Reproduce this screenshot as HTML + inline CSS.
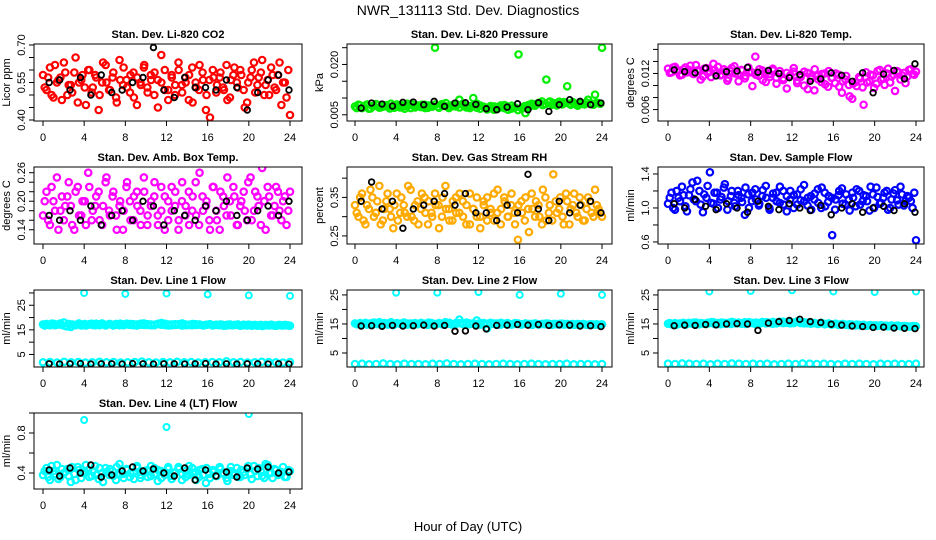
<!DOCTYPE html>
<html><head><meta charset="utf-8"><style>
body{margin:0;background:#fff}
svg{display:block;font-family:"Liberation Sans",sans-serif}
</style></head><body>
<svg id="c" width="936" height="540" viewBox="0 0 936 540">
<text x="468" y="15" text-anchor="middle" font-size="14">NWR_131113 Std. Dev. Diagnostics</text>
<text x="468" y="531" text-anchor="middle" font-size="13">Hour of Day (UTC)</text>
</svg>
<script>
const hourTicks=[0,4,8,12,16,20,24];
const co2Vals=[.58,.52,.61,.49,.55,.57,.63,.50,.54,.59,.47,.56,.53,.60,.51,.58,.44,.55,.62,.52,.57,.49,.64,.54,.56,.51,.59,.46,.55,.61,.53,.58,.50,.56,.66,.52,.48,.57,.54,.60,.51,.55,.58,.47,.53,.62,.56,.50,.41,.57,.54,.59,.52,.48,.56,.61,.53,.58,.45,.55,.60,.51,.57,.64,.54,.50,.58,.52,.63,.55,.49,.42];
const co2B=[.53,.57,.50,.62,.56,.48,.59,.54,.51,.65,.55,.58,.46,.60,.53,.57,.50,.63,.55,.52,.59,.47,.56,.61,.53,.58,.49,.57,.54,.62,.51,.56,.59,.45,.55,.60,.52,.58,.50,.63,.54,.57,.48,.61,.55,.52,.59,.44,.56,.60,.51,.57,.53,.62,.49,.58,.55,.60,.52,.47,.57,.63,.54,.59,.50,.56,.61,.53,.58,.46,.55,.60];
const co2Black=[.55,.56,.52,.57,.50,.58,.51,.52,.55,.57,.69,.52,.49,.57,.53,.53,.52,.56,.53,.44,.51,.56,.58,.52];
const presVals=[.0075,.008,.007,.0078,.0068,.0076,.0082,.0071,.0074,.0079,.0069,.0077,.0081,.0072,.0075,.0083,.007,.0076,.0078,.0073,.008,.0071,.0077,.025,.0074,.0082,.0076,.007,.0079,.0075,.0095,.0083,.0072,.0076,.010,.0071,.0078,.0074,.0066,.007,.0075,.0068,.0073,.0079,.0065,.0077,.0072,.023,.0069,.0055,.0074,.0078,.0082,.0086,.0079,.0155,.009,.0085,.0078,.0083,.0088,.0135,.008,.0084,.0077,.0086,.0081,.0095,.0083,.011,.0085,.025];
const presB=[.0070,.0078,.0073,.0081,.0069,.0076,.0080,.0072,.0078,.0074,.0083,.0071,.0075,.0079,.0068,.0077,.0082,.0072,.0076,.0080,.0070,.0078,.0074,.0081,.0071,.0077,.0085,.0073,.0076,.0082,.0072,.0079,.0075,.0070,.0078,.0083,.0068,.0074,.0071,.0076,.0065,.0073,.0078,.0070,.0075,.0068,.0072,.0064,.0070,.0076,.0079,.0083,.0077,.0085,.0090,.0082,.0087,.0080,.0084,.0089,.0081,.0086,.0083,.0088,.0080,.0085,.0082,.0087,.0084,.0080,.0086,.0083];
const presBlack=[.007,.0085,.0082,.0076,.0087,.0088,.008,.009,.0075,.0085,.0086,.0081,.0068,.0065,.0073,.0083,.0065,.0086,.006,.008,.0095,.009,.008,.0085];
const tempVals=[.0128,.0122,.0131,.0125,.0118,.0130,.0126,.0120,.0134,.0124,.0115,.0129,.0123,.0136,.0121,.0117,.0127,.0108,.0124,.0132,.0119,.0126,.0112,.0130,.0122,.0148,.0116,.0125,.0106,.0119,.0128,.0113,.0124,.0109,.0121,.0116,.0129,.0104,.0118,.0123,.0094,.0115,.0127,.0110,.0119,.0102,.0124,.0113,.0120,.0098,.0107,.0116,.0082,.0103,.0099,.0112,.0068,.0105,.0118,.0096,.0124,.0110,.0101,.0128,.0115,.0091,.0122,.0117,.0104,.0126,.0119,.0123];
const tempB=[.0121,.0130,.0124,.0117,.0127,.0122,.0133,.0119,.0125,.0110,.0128,.0121,.0114,.0126,.0131,.0118,.0123,.0112,.0129,.0120,.0107,.0125,.0116,.0122,.0099,.0118,.0127,.0109,.0121,.0114,.0125,.0103,.0119,.0112,.0095,.0117,.0123,.0108,.0114,.0100,.0121,.0111,.0092,.0116,.0106,.0120,.0098,.0113,.0104,.0118,.0088,.0110,.0101,.0078,.0106,.0114,.0097,.0122,.0107,.0117,.0103,.0126,.0112,.0120,.0105,.0118,.0124,.0110,.0121,.0115,.0127,.0118];
const tempBlack=[.0126,.0123,.0121,.0129,.0116,.0123,.0124,.0130,.0122,.0125,.0120,.0113,.0118,.0107,.0111,.0121,.0117,.0107,.0121,.0088,.0119,.0125,.0111,.0136];
const boxVals=[.17,.22,.15,.20,.25,.18,.16,.21,.19,.14,.23,.17,.20,.26,.16,.19,.22,.15,.24,.18,.21,.17,.19,.14,.23,.20,.16,.22,.18,.25,.15,.19,.21,.17,.23,.14,.20,.18,.22,.16,.24,.19,.15,.21,.17,.26,.18,.20,.14,.23,.16,.22,.19,.25,.17,.21,.15,.20,.18,.24,.16,.22,.19,.27,.14,.21,.17,.23,.18,.20,.15,.22];
const boxB=[.20,.16,.23,.18,.14,.21,.19,.24,.15,.22,.17,.20,.15,.23,.18,.21,.16,.19,.25,.17,.22,.14,.20,.18,.24,.16,.21,.19,.15,.22,.17,.20,.24,.15,.18,.21,.16,.23,.19,.14,.20,.17,.22,.18,.24,.15,.21,.19,.16,.23,.18,.14,.21,.17,.20,.23,.15,.19,.22,.16,.25,.18,.21,.15,.20,.23,.17,.19,.22,.16,.21,.18];
const boxBlack=[.17,.16,.18,.16,.19,.15,.17,.18,.16,.20,.19,.15,.18,.17,.16,.19,.18,.20,.17,.16,.18,.19,.17,.20];
const rhVals=[.33,.30,.36,.28,.32,.35,.31,.38,.29,.34,.32,.27,.36,.31,.33,.30,.37,.29,.34,.32,.35,.28,.31,.36,.33,.30,.38,.32,.29,.35,.31,.34,.28,.36,.32,.30,.27,.33,.35,.31,.29,.37,.32,.34,.30,.36,.28,.33,.31,.35,.26,.32,.34,.30,.37,.29,.33,.41,.31,.35,.28,.34,.32,.36,.30,.33,.29,.35,.31,.37,.32,.30];
const rhB=[.31,.35,.29,.33,.37,.30,.34,.28,.32,.36,.30,.33,.29,.35,.31,.38,.30,.33,.28,.36,.31,.34,.30,.33,.27,.35,.32,.29,.34,.31,.36,.30,.33,.28,.32,.35,.30,.34,.29,.32,.36,.31,.28,.35,.30,.33,.31,.24,.34,.29,.32,.36,.30,.33,.28,.35,.31,.29,.34,.32,.30,.36,.28,.33,.31,.35,.29,.32,.34,.30,.33,.31];
const rhBlack=[.34,.39,.32,.34,.27,.32,.33,.34,.36,.33,.36,.31,.31,.29,.33,.31,.41,.32,.29,.34,.31,.33,.34,.31];
const flowVals=[1.05,1.18,0.98,1.12,1.25,1.02,1.15,1.30,1.08,1.20,0.95,1.12,1.42,1.05,1.18,1.10,1.24,0.98,1.14,1.06,1.20,1.12,0.92,1.16,1.08,1.22,1.03,1.14,1.26,1.00,1.12,1.18,1.06,1.20,0.96,1.10,1.15,1.04,1.22,1.08,1.12,0.98,1.17,1.06,1.24,1.02,1.14,0.68,1.10,1.20,1.05,1.16,0.97,1.12,1.22,1.04,1.15,1.08,1.25,1.00,1.13,1.06,1.18,0.98,1.10,1.21,1.04,1.16,1.08,1.12,1.00,0.62];
const flowB=[1.12,1.00,1.20,1.08,1.15,0.96,1.22,1.10,1.32,1.04,1.16,1.26,1.06,1.18,1.00,1.13,1.28,1.08,1.20,1.02,1.15,1.07,1.24,1.00,1.18,1.10,1.05,1.21,1.12,0.98,1.17,1.08,1.25,1.04,1.14,1.20,1.00,1.16,1.09,1.27,1.03,1.14,1.10,1.22,1.00,1.18,1.07,1.12,0.98,1.15,1.23,1.04,1.10,1.18,1.02,1.20,1.08,1.14,0.97,1.16,1.24,1.05,1.12,1.20,1.00,1.17,1.09,1.25,1.03,1.14,1.08,1.18];
const flowBlack=[1.05,1.00,1.10,1.02,0.98,1.05,1.00,0.95,1.08,1.02,0.98,1.05,1.00,0.97,1.03,0.92,1.00,1.05,0.95,1.00,1.02,0.97,1.05,0.95];
const l1Vals=[17.2,17.4,16.9,17.5,17.1,17.6,18.0,16.4,16.2,17.0,17.3,16.8,17.4,17.1,17.5,16.9,17.2,17.6,16.8,17.3,17.0,17.4,16.9,17.2,17.5,17.0,17.3,16.8,17.1,17.6,17.0,17.2,16.9,17.4,17.1,17.5,16.8,17.2,17.0,17.3,17.6,16.9,17.1,17.4,17.0,17.2,16.8,17.1,17.3,16.9,17.0,17.2,16.7,17.1,16.9,17.0,17.2,16.8,16.9,17.1,16.7,17.0,16.9,16.6,17.0,16.8,16.9,16.7,17.0,16.8,16.9,16.7];
const l1B=[16.8,17.1,17.5,16.9,17.3,17.0,16.6,17.4,17.2,16.9,17.6,17.1,16.8,17.3,17.0,17.5,16.9,17.2,17.0,17.4,16.8,17.1,17.5,16.9,17.2,17.4,16.9,17.2,17.5,17.0,17.3,16.9,17.1,17.4,17.8,17.0,17.2,16.9,17.3,17.1,16.8,17.2,17.0,16.9,17.3,17.1,16.9,17.0,17.2,16.8,17.1,16.9,17.0,16.8,17.2,16.9,17.0,16.7,17.1,16.8,17.0,16.9,16.7,17.0,16.8,16.9,17.1,16.7,16.9,16.8,17.0,16.8];
const l1Low=[1.8,1.9,1.7,2.0,1.8,1.9,1.7,1.8,2.0,1.8,1.9,1.7,1.8,1.9,2.1,1.8,1.7,1.9,1.8,2.0,1.8,1.9,1.7,1.8,1.9,1.8,2.2,1.8,1.9,1.7,1.8,2.0,1.9,1.8,1.7,1.9];
const l1Black=[1.2,1.1,1.2,1.3,1.1,1.2,1.2,1.1,1.3,1.2,1.1,1.2,1.2,1.1,1.2,1.3,1.1,1.2,1.1,1.2,1.2,1.1,1.2,1.1];
const outHours=[4,8,12,16,20,24];
const l1Out=[30.0,29.6,29.8,29.4,29.0,28.8];
const l2Vals=[15.2,15.0,14.7,15.4,15.1,14.8,15.3,15.6,14.9,15.2,15.0,14.6,15.3,15.1,15.5,14.8,15.2,15.0,14.9,15.4,15.1,14.7,15.3,15.0,15.2,14.9,15.6,15.1,14.8,15.3,16.5,15.0,14.9,15.2,15.1,16.2,14.8,15.3,13.5,15.0,15.2,14.9,15.4,15.1,15.0,14.8,15.3,15.1,14.9,15.2,15.0,14.7,15.1,14.9,15.0,15.2,14.8,15.0,14.9,15.1,14.8,15.0,14.9,14.7,15.0,14.8,14.9,14.7,14.9,14.8,14.7,14.9];
const l2B=[14.9,15.3,15.1,14.8,15.2,15.5,14.9,15.1,15.3,14.8,15.6,15.0,15.2,14.9,15.4,15.1,14.8,15.3,15.0,15.2,14.9,15.5,15.1,14.8,15.3,15.0,15.2,15.4,14.9,15.1,15.3,15.0,15.5,14.9,15.2,15.0,15.3,14.9,15.1,15.4,15.0,15.2,14.8,15.1,15.3,14.9,15.0,15.2,14.8,15.1,14.9,15.0,15.2,14.8,15.0,14.9,15.1,14.7,15.0,14.8,15.1,14.9,14.7,15.0,14.8,14.9,15.0,14.7,14.9,14.8,14.9,14.7];
const l2Low=[1.2,1.3,1.1,1.2,1.4,1.2,1.1,1.3,1.2,1.2,1.1,1.3,1.2,1.4,1.2,1.1,1.2,1.3,1.2,1.1,1.2,1.3,1.2,1.1,1.2,1.3,1.2,1.1,1.2,1.2,1.3,1.1,1.2,1.2,1.1,1.2];
const l2Black=[14.3,14.4,14.2,14.5,14.3,14.4,14.6,14.3,14.5,12.5,12.6,14.3,13.3,14.5,14.6,14.8,14.6,14.8,14.5,14.7,14.6,14.3,14.4,14.1];
const l2Out=[25.8,25.8,26.0,25.0,25.4,25.0];
const l3Vals=[15.1,14.9,15.3,15.0,15.2,14.8,15.4,15.1,15.5,14.9,15.2,15.0,15.3,15.6,15.1,14.9,15.4,15.2,15.0,15.5,15.3,15.1,15.6,15.2,15.4,15.0,15.3,15.7,15.2,15.5,15.1,15.4,15.8,15.3,15.6,15.2,15.5,15.9,15.3,15.6,15.2,15.5,15.3,15.1,15.4,15.0,15.2,14.9,15.1,14.8,15.0,14.7,14.9,14.6,14.8,14.5,14.7,14.4,14.6,14.5,14.3,14.6,14.4,14.2,14.5,14.3,14.4,14.2,14.3,14.1,14.3,14.2];
const l3B=[15.3,15.0,14.8,15.2,15.4,15.0,15.2,15.5,14.9,15.3,15.1,15.4,15.6,15.0,15.3,15.5,15.1,15.4,15.7,15.2,15.5,15.3,15.0,15.6,15.3,15.5,15.1,15.4,15.6,15.3,15.7,15.2,15.5,15.8,15.4,15.6,15.3,15.7,15.5,15.2,15.4,15.1,15.3,15.0,15.2,14.9,15.1,14.8,15.0,14.7,14.9,14.8,14.6,14.8,14.5,14.7,14.6,14.4,14.6,14.3,14.5,14.4,14.2,14.4,14.3,14.1,14.4,14.2,14.3,14.2,14.1,14.3];
const l3Low=[1.3,1.2,1.4,1.3,1.2,1.3,1.1,1.3,1.2,1.4,1.3,1.2,1.3,1.2,1.3,1.1,1.2,1.3,1.2,1.4,1.3,1.2,1.3,1.2,1.1,1.3,1.2,1.3,1.2,1.1,1.3,1.2,1.3,1.2,1.2,1.3];
const l3Black=[14.4,14.6,14.5,14.8,14.7,15.0,15.1,15.0,12.8,15.3,15.8,16.2,16.6,15.8,15.5,14.9,14.6,14.3,14.1,13.8,13.9,13.6,13.5,13.4];
const l3Out=[26.2,26.4,26.6,26.2,26.0,26.2];
const l4Vals=[.38,.45,.33,.42,.48,.36,.40,.44,.31,.39,.46,.35,.41,.43,.37,.47,.34,.40,.45,.38,.42,.33,.49,.39,.44,.36,.41,.47,.35,.40,.43,.37,.45,.32,.42,.38,.46,.34,.41,.44,.39,.36,.47,.40,.33,.43,.38,.45,.35,.41,.37,.44,.39,.32,.46,.40,.36,.43,.38,.47,.34,.42,.45,.37,.49,.40,.35,.43,.39,.46,.36,.42];
const l4B=[.42,.36,.47,.39,.34,.44,.41,.37,.46,.33,.43,.40,.48,.36,.42,.38,.45,.31,.41,.44,.37,.46,.39,.35,.43,.40,.34,.45,.38,.42,.36,.47,.39,.43,.35,.41,.44,.37,.40,.46,.33,.42,.38,.45,.41,.36,.44,.30,.39,.43,.37,.46,.40,.35,.42,.38,.45,.36,.41,.44,.39,.47,.37,.42,.35,.48,.40,.44,.38,.41,.36,.43];
const l4Black=[.43,.37,.45,.40,.48,.36,.38,.42,.46,.42,.44,.40,.37,.45,.33,.43,.37,.41,.36,.45,.44,.46,.40,.41];
const l4OutHours=[4,12,20];
const l4Out=[0.93,0.86,0.99];

const colLeft=[34,347,658], colRight=[302,612,924], colX0=[43,355,668], colX24=[290,602,916];
const rowTop=[44,167,290,413], rowBot=[121,244,367,489];
const NS='http://www.w3.org/2000/svg';
const svg=document.getElementById('c');
function mk(tag,attrs,parent){const e=document.createElementNS(NS,tag);for(const k in attrs)e.setAttribute(k,attrs[k]);(parent||svg).appendChild(e);return e;}

// series kind: 0 = main, 2 = offset main, 1 = black reference
const panels=[
 {t:'Stan. Dev. Li-820 CO2',yl:'Licor ppm',r:0,c:0,lo:0.396,hi:0.704,ticks:[.40,.45,.50,.55,.60,.65,.70],labs:['0.40','0.55','0.70'],labV:[.40,.55,.70],col:'#ff0000',series:[[co2Vals,0],[co2B,2],[co2Black,1]]},
 {t:'Stan. Dev. Li-820 Pressure',yl:'kPa',r:0,c:1,lo:0.00315,hi:0.0261,ticks:[.005,.010,.015,.020,.025],labs:['0.005','0.020'],labV:[.005,.020],col:'#00ee00',series:[[presVals,0],[presB,2],[presBlack,1]]},
 {t:'Stan. Dev. Li-820 Temp.',yl:'degrees C',r:0,c:2,lo:0.0041,hi:0.0169,ticks:[.006,.008,.010,.012,.014,.016],labs:['0.006','0.012'],labV:[.006,.012],col:'#ff00ff',series:[[tempVals,0],[tempB,2],[tempBlack,1]]},
 {t:'Stan. Dev. Amb. Box Temp.',yl:'degrees C',r:1,c:0,lo:0.11,hi:0.272,ticks:[.14,.16,.18,.20,.22,.24,.26],labs:['0.14','0.20','0.26'],labV:[.14,.20,.26],col:'#ff00ff',series:[[boxVals,0],[boxB,2],[boxBlack,1]]},
 {t:'Stan. Dev. Gas Stream RH',yl:'percent',r:1,c:1,lo:0.229,hi:0.429,ticks:[.25,.30,.35,.40],labs:['0.25','0.35'],labV:[.25,.35],col:'#ffaa00',series:[[rhVals,0],[rhB,2],[rhBlack,1]]},
 {t:'Stan. Dev. Sample Flow',yl:'ml/min',r:1,c:2,lo:0.576,hi:1.482,ticks:[.6,.8,1.0,1.2,1.4],labs:['0.6','1.0','1.4'],labV:[.6,1.0,1.4],col:'#0000ff',series:[[flowVals,0],[flowB,2],[flowBlack,1]]},
 {t:'Stan. Dev. Line 1 Flow',yl:'ml/min',r:2,c:0,lo:-0.1,hi:31.2,ticks:[5,10,15,20,25,30],labs:['5','15','25'],labV:[5,15,25],col:'#00ffff',series:[[l1Vals,0],[l1B,2],[l1Low,0],[l1Black,1]],out:[outHours,l1Out]},
 {t:'Stan. Dev. Line 2 Flow',yl:'ml/min',r:2,c:1,lo:0.17,hi:26.7,ticks:[5,10,15,20,25],labs:['5','15','25'],labV:[5,15,25],col:'#00ffff',series:[[l2Vals,0],[l2B,2],[l2Low,0],[l2Black,1]],out:[outHours,l2Out]},
 {t:'Stan. Dev. Line 3 Flow',yl:'ml/min',r:2,c:2,lo:0.17,hi:26.7,ticks:[5,10,15,20,25],labs:['5','15','25'],labV:[5,15,25],col:'#00ffff',series:[[l3Vals,0],[l3B,2],[l3Low,0],[l3Black,1]],out:[outHours,l3Out]},
 {t:'Stan. Dev. Line 4 (LT) Flow',yl:'ml/min',r:3,c:0,lo:0.24,hi:1.0,ticks:[.4,.6,.8,1.0],labs:['0.4','0.8'],labV:[.4,.8],col:'#00ffff',series:[[l4Vals,0],[l4B,2],[l4Black,1]],out:[l4OutHours,l4Out]}
];

panels.forEach((p,pi)=>{
  const L=colLeft[p.c],R=colRight[p.c],T=rowTop[p.r],B=rowBot[p.r];
  const xs=h=>colX0[p.c]+(colX24[p.c]-colX0[p.c])*h/24;
  const ys=v=>B-(v-p.lo)/(p.hi-p.lo)*(B-T);
  const g=mk('g',{});
  
  
  const tt=mk('text',{x:(L+R)/2,y:T-6,'text-anchor':'middle','font-size':11,'font-weight':'bold'},g);tt.textContent=p.t;
  
  
  hourTicks.forEach(h=>{
    mk('line',{x1:xs(h),x2:xs(h),y1:B,y2:B+5,stroke:'#000'},g);
    const lt=mk('text',{x:xs(h),y:B+20,'text-anchor':'middle','font-size':11},g);lt.textContent=h;
    
    
  });
  mk('line',{x1:xs(0),x2:xs(24),y1:B,y2:B,stroke:'#000'},g);
  p.ticks.forEach(v=>mk('line',{x1:L-5,x2:L,y1:ys(v),y2:ys(v),stroke:'#000'},g));
  p.labV.forEach((v,i)=>{
    const lt=mk('text',{x:L-9,y:ys(v),'text-anchor':'middle','font-size':11,transform:`rotate(-90 ${L-9} ${ys(v)})`},g);lt.textContent=p.labs[i];
    
    
  });
  const yl=mk('text',{x:L-24,y:(T+B)/2,'text-anchor':'middle','font-size':11,transform:`rotate(-90 ${L-24} ${(T+B)/2})`},g);yl.textContent=p.yl;
  
  
  const clip=mk('clipPath',{id:'cl'+pi},g);mk('rect',{x:L,y:T,width:R-L,height:B-T},clip);
  const pg=mk('g',{'clip-path':`url(#cl${pi})`},g);
  p.series.forEach(([vals,kind])=>{
    const n=vals.length;
    vals.forEach((v,i)=>{
      const black=kind===1;
      const h=black?0.6+i*23.3/(n-1):(kind===2?(i+0.5)*24/n:i*24/(n-1));
      const c=mk('circle',{cx:xs(h),cy:ys(v),r:black?2.8:3.2,fill:'none',stroke:black?'#000':p.col,'stroke-width':black?1.8:2.2},pg);
      
      
    });
  });
  if(p.out){p.out[0].forEach((h,i)=>{
    const c=mk('circle',{cx:xs(h),cy:ys(p.out[1][i]),r:3,fill:'none',stroke:p.col,'stroke-width':2},pg);
    
    
  });}
  const bx=mk('rect',{x:L,y:T,width:R-L,height:B-T,fill:'none',stroke:'#000'},g);
  
  
});
</script>
</body></html>
